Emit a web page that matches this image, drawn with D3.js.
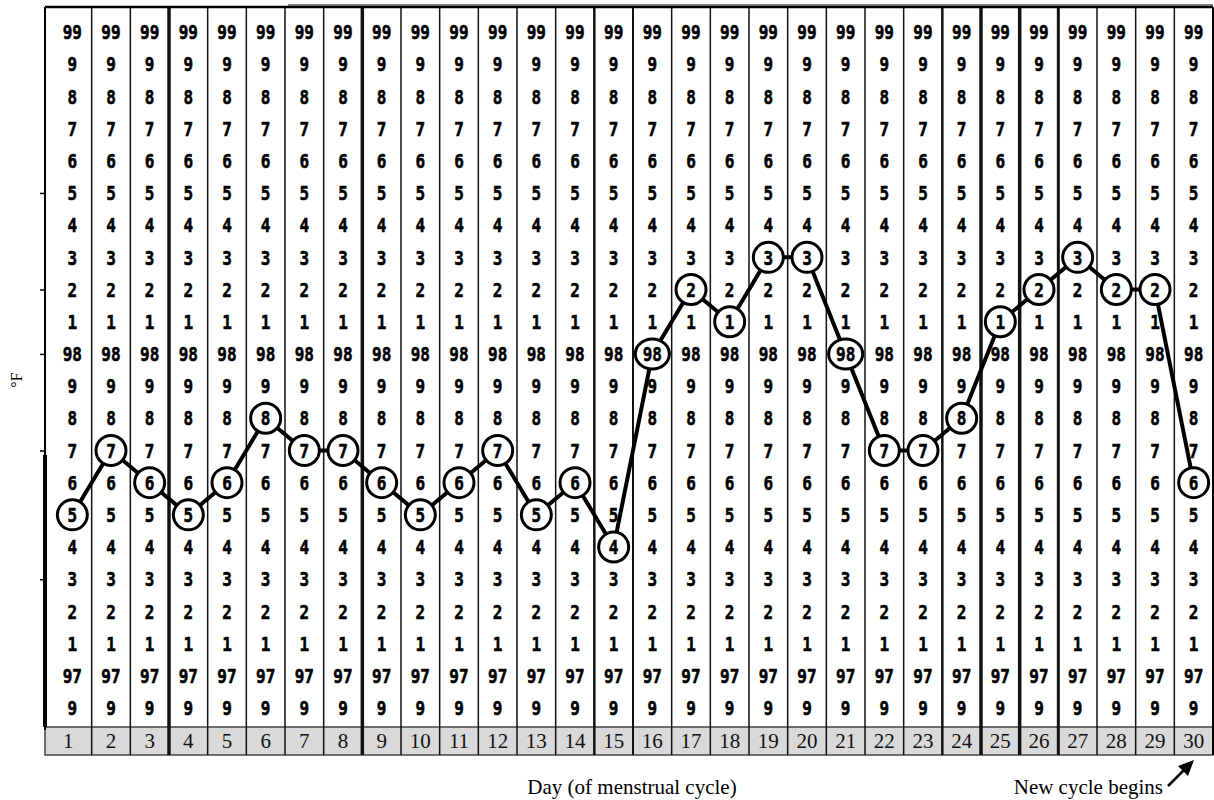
<!DOCTYPE html>
<html>
<head>
<meta charset="utf-8">
<script src="https://cdn.jsdelivr.net/npm/d3@7"></script>
<style>
  body { margin: 0; background: #fff; }
</style>
</head>
<body>
<svg id="chart"></svg>
<script>
const days = [1, 2, 3, 4, 5, 6, 7, 8, 9, 10, 11, 12, 13, 14, 15, 16, 17, 18, 19, 20, 21, 22, 23, 24, 25, 26, 27, 28, 29, 30]
const temps = [97.5, 97.7, 97.6, 97.5, 97.6, 97.8, 97.7, 97.7, 97.6, 97.5, 97.6, 97.7, 97.5, 97.6, 97.4,
  98.0, 98.2, 98.1, 98.3, 98.3, 98.0, 97.7, 97.7, 97.8, 98.1, 98.2, 98.3, 98.2, 98.2, 97.6]
const rowTemps = [99.0, 98.9, 98.8, 98.7, 98.6, 98.5, 98.4, 98.3, 98.2, 98.1, 98.0,
  97.9, 97.8, 97.7, 97.6, 97.5, 97.4, 97.3, 97.2, 97.1, 97.0, 96.9]
const rowLabels = ['99', '9', '8', '7', '6', '5', '4', '3', '2', '1', '98',
  '9', '8', '7', '6', '5', '4', '3', '2', '1', '97', '9']
const axisTicks = [98.5, 98.2, 98.0, 97.7, 97.3]

const width = 1214
const height = 800
const leftX = 45
const rightX = 1213
const topY = 7
const stripTop = 727
const stripBottom = 755

const svg = d3.select('svg#chart')
  .attr('width', width)
  .attr('height', height)

const x = d3.scaleBand().domain(days).range([53, rightX])
const y = d3.scaleLinear().domain([99.0, 96.9]).range([32, 708])
const cx = d => x(d) + x.bandwidth() / 2

const labelOf = t => rowLabels[rowTemps.findIndex(r => Math.abs(r - t) < 0.001)]

const digitFont = g => g
  .style('font-family', '"DejaVu Sans Mono", monospace')
  .style('font-weight', 'bold')
  .style('font-size', '20px')
  .attr('stroke', '#000')
  .attr('stroke-width', 0.6)

// day strip
const strip = svg.append('g')
strip.append('rect')
  .attr('x', leftX).attr('y', stripTop)
  .attr('width', rightX - leftX).attr('height', stripBottom - stripTop)
  .attr('fill', '#d9d9d9')
  .attr('stroke', '#444').attr('stroke-width', 1.5)
strip.selectAll('text')
  .data(days)
  .enter().append('text')
  .attr('x', d => d === 1 ? (leftX + x(2)) / 2 : cx(d))
  .attr('y', stripTop + 21)
  .attr('text-anchor', 'middle')
  .style('font-family', '"Liberation Serif", "DejaVu Serif", serif')
  .style('font-size', '21px')
  .attr('fill', '#111')
  .text(d => d)

// grid digits
const cols = svg.append('g').call(digitFont)
days.forEach(d => {
  cols.append('g').selectAll('text')
    .data(rowTemps)
    .enter().append('text')
    .attr('transform', t => `translate(${cx(d)},${y(t)}) scale(0.8,1)`)
    .attr('dy', '0.36em')
    .attr('text-anchor', 'middle')
    .attr('fill', '#000')
    .text((t, i) => rowLabels[i])
})

// column separators
const thick = { 3: 3.5, 8: 3.5, 14: 2.5, 15: 2, 23: 2.5, 24: 3.5, 25: 3.5, 26: 3 }
svg.append('g').selectAll('line')
  .data(days.slice(1))
  .enter().append('line')
  .attr('x1', d => x(d)).attr('x2', d => x(d))
  .attr('y1', topY).attr('y2', stripBottom)
  .attr('stroke', '#111')
  .attr('stroke-width', d => thick[d - 1] || 1.5)

// frame
svg.append('line').attr('x1', leftX).attr('x2', rightX).attr('y1', topY).attr('y2', topY)
  .attr('stroke', '#000').attr('stroke-width', 2.5)
svg.append('line').attr('x1', 288).attr('x2', rightX).attr('y1', topY - 2).attr('y2', topY - 2)
  .attr('stroke', '#555').attr('stroke-width', 1.5)
svg.append('line').attr('x1', rightX).attr('x2', rightX).attr('y1', topY).attr('y2', stripBottom)
  .attr('stroke', '#000').attr('stroke-width', 2)
svg.append('line').attr('x1', leftX).attr('x2', leftX).attr('y1', topY).attr('y2', stripTop + 3)
  .attr('stroke', '#000').attr('stroke-width', 2)
svg.append('line').attr('x1', leftX).attr('x2', leftX).attr('y1', 455).attr('y2', stripTop)
  .attr('stroke', '#000').attr('stroke-width', 4)

svg.append('g')
  .attr('transform', `translate(${leftX},0)`)
  .call(d3.axisLeft(y).tickValues(axisTicks).tickSize(5).tickFormat(''))
  .call(g => g.select('.domain').remove())
  .selectAll('line').attr('stroke', '#000').attr('stroke-width', 1.5)

// temperature curve
const line = d3.line()
  .x((t, i) => cx(days[i]))
  .y(t => y(t))
svg.append('path')
  .datum(temps)
  .attr('d', line)
  .attr('fill', 'none')
  .attr('stroke', '#000')
  .attr('stroke-width', 4)
  .attr('stroke-linejoin', 'round')

const marks = svg.append('g')
  .selectAll('g')
  .data(temps)
  .enter().append('g')
  .attr('transform', (t, i) => `translate(${cx(days[i])},${y(t)})`)
marks.append('ellipse')
  .attr('rx', t => labelOf(t).length > 1 ? 17 : 15)
  .attr('ry', 15)
  .attr('fill', '#fff')
  .attr('stroke', '#000')
  .attr('stroke-width', 3)
marks.append('text')
  .call(digitFont)
  .attr('transform', 'scale(0.8,1)')
  .attr('dy', '0.36em')
  .attr('text-anchor', 'middle')
  .text(t => labelOf(t))

// labels
const serif = '"Liberation Serif", "DejaVu Serif", serif'
svg.append('text')
  .attr('transform', 'translate(22,380) rotate(-90)')
  .attr('text-anchor', 'middle')
  .style('font-family', serif)
  .style('font-size', '16px')
  .text('°F')
svg.append('text')
  .attr('x', 632).attr('y', 794)
  .attr('text-anchor', 'middle')
  .style('font-family', serif)
  .style('font-size', '21px')
  .text('Day (of menstrual cycle)')
svg.append('text')
  .attr('x', 1163).attr('y', 794)
  .attr('text-anchor', 'end')
  .style('font-family', serif)
  .style('font-size', '21px')
  .text('New cycle begins')

svg.append('line')
  .attr('x1', 1168).attr('y1', 786).attr('x2', 1185).attr('y2', 769)
  .attr('stroke', '#000').attr('stroke-width', 2.5)
svg.append('path')
  .attr('d', 'M1194,760 L1178,766 L1188,776 Z')
  .attr('fill', '#000')
</script>
</body>
</html>
